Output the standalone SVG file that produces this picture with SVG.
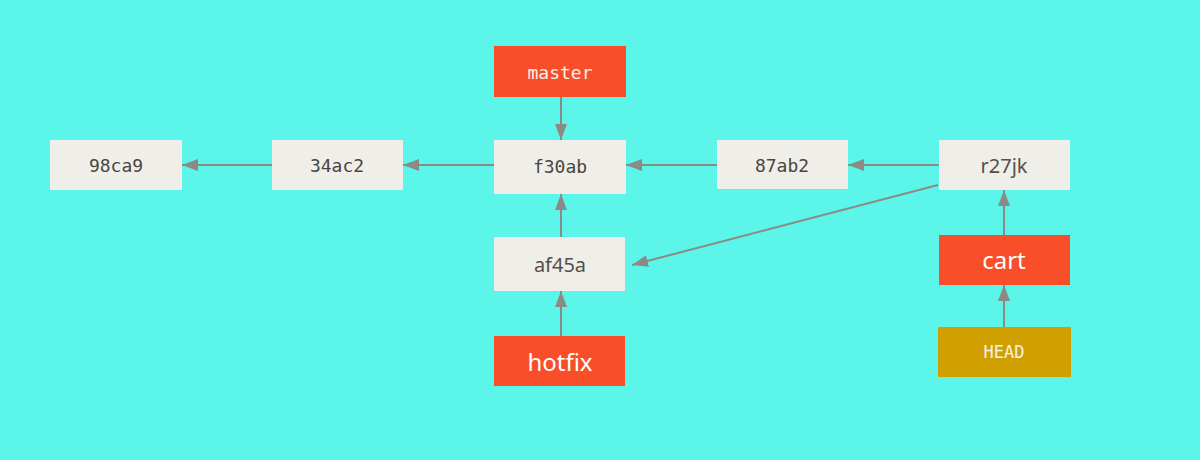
<svg xmlns="http://www.w3.org/2000/svg" width="1200" height="460" viewBox="0 0 1200 460">
<style>
.commit{fill:#F0EEE8}
.branch{fill:#F84F2A}
.head{fill:#D0A000}
.mono{font-family:"DejaVu Sans Mono",monospace;font-size:18px;fill:#4A4540;text-anchor:middle;dominant-baseline:central}
.sans{font-family:"Noto Sans","Open Sans",sans-serif;font-size:20px;fill:#55504A;text-anchor:middle;dominant-baseline:central}
.bl{font-family:"Noto Sans","Open Sans",sans-serif;font-size:24px;fill:#FFFFFF;text-anchor:middle;dominant-baseline:central}
.wm{font-family:"DejaVu Sans Mono",monospace;font-size:18px;fill:#F5F2EC;text-anchor:middle;dominant-baseline:central}
.conn{stroke:#8C8A86;stroke-width:2;fill:none;marker-end:url(#ah)}
</style>
<defs>
<marker id="ah" viewBox="0 0 16 12" refX="16" refY="6" markerWidth="16" markerHeight="12" markerUnits="userSpaceOnUse" orient="auto">
<path d="M0,0 L16,6 L0,12 Z" fill="#8C8A86"/>
</marker>
</defs>
<rect width="1200" height="460" fill="#5CF5EA"/>
<g id="connectors">
<line class="conn" x1="561" y1="97" x2="561" y2="140"/>
<line class="conn" x1="494" y1="165" x2="403" y2="165"/>
<line class="conn" x1="272" y1="165" x2="182" y2="165"/>
<line class="conn" x1="717" y1="165" x2="626" y2="165"/>
<line class="conn" x1="939" y1="165" x2="848" y2="165"/>
<line class="conn" x1="561" y1="237" x2="561" y2="194"/>
<line class="conn" x1="561" y1="336" x2="561" y2="291"/>
<line class="conn" x1="938" y1="185" x2="632" y2="265"/>
<line class="conn" x1="1004" y1="235" x2="1004" y2="190"/>
<line class="conn" x1="1004" y1="327" x2="1004" y2="285"/>
</g>
<g id="master"><rect class="branch" x="494" y="46" width="132" height="51"/><text class="wm" x="560" y="72">master</text></g>
<g id="c98ca9"><rect class="commit" x="50" y="140" width="132" height="50"/><text class="mono" x="116" y="165">98ca9</text></g>
<g id="c34ac2"><rect class="commit" x="272" y="140" width="131" height="50"/><text class="mono" x="337" y="165">34ac2</text></g>
<g id="cf30ab"><rect class="commit" x="494" y="140" width="132" height="54"/><text class="mono" x="560" y="166">f30ab</text></g>
<g id="c87ab2"><rect class="commit" x="717" y="140" width="131" height="49"/><text class="mono" x="782" y="165">87ab2</text></g>
<g id="cr27jk"><rect class="commit" x="939" y="140" width="131" height="50"/><text class="sans" x="1004" y="165">r27jk</text></g>
<g id="caf45a"><rect class="commit" x="494" y="237" width="131" height="54"/><text class="sans" x="560" y="264">af45a</text></g>
<g id="hotfix"><rect class="branch" x="494" y="336" width="131" height="50"/><text class="bl" x="560" y="361">hotfix</text></g>
<g id="cart"><rect class="branch" x="939" y="235" width="131" height="50"/><text class="bl" x="1004" y="259">cart</text></g>
<g id="HEAD"><rect class="head" x="938" y="327" width="133" height="50"/><text class="wm" x="1004" y="352" style="font-size:17px">HEAD</text></g>
</svg>
